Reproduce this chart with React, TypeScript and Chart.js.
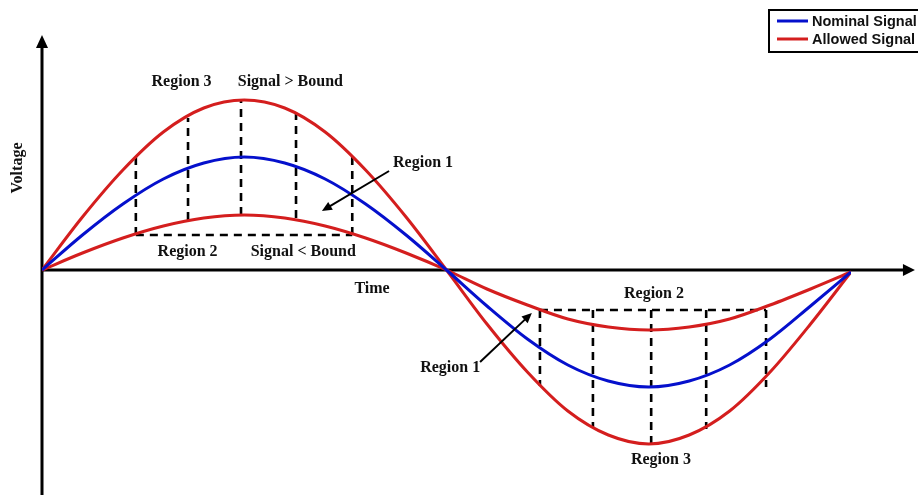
import React, { useEffect, useRef } from "react";
import { Chart, registerables } from "chart.js";

Chart.register(...registerables);

// Time steps (1/20 of a period each)
const timeSteps = [0, 1, 2, 3, 4, 5, 6, 7, 8, 9, 10, 11, 12, 13, 14, 15, 16, 17, 18, 19, 20];
// Nominal signal (blue)
const nominalSignal = [0, 0.35, 0.66, 0.91, 1.07, 1.13, 1.07, 0.91, 0.66, 0.35, 0, -0.36, -0.69, -0.95, -1.11, -1.17, -1.11, -0.95, -0.69, -0.36, -0.02];
// Allowed signal – outer bound (upper in 1st half, lower in 2nd half)
const allowedOuter = [0, 0.53, 1.0, 1.38, 1.62, 1.7, 1.62, 1.38, 1.0, 0.53, 0, -0.54, -1.02, -1.41, -1.65, -1.74, -1.65, -1.41, -1.02, -0.54, -0.02];
// Allowed signal – inner bound
const allowedInner = [0, 0.17, 0.32, 0.44, 0.52, 0.55, 0.52, 0.44, 0.32, 0.17, 0, -0.19, -0.35, -0.49, -0.57, -0.6, -0.57, -0.49, -0.35, -0.19, -0.02];

// Dashed region markers, first half
const markX1 = [2.32, 3.61, 4.92, 6.28, 7.67];
const markTop1 = [1.13, 1.52, 1.7, 1.56, 1.15];
const markBottom1 = [0.35, 0.5, 0.55, 0.52, 0.35];
const boxLine1 = 0.35;
// Dashed region markers, second half
const markX2 = [12.31, 13.62, 15.06, 16.42, 17.9];
const markTop2 = [-0.4, -0.4, -0.4, -0.4, -0.4];
const markBottom2 = [-1.16, -1.57, -1.74, -1.59, -1.17];
const boxLine2 = -0.4;

// Annotation labels (text, x, y in data units)
const labelTexts = ["Region 3", "Signal > Bound", "Region 1", "Region 2", "Signal < Bound", "Time", "Region 1", "Region 2", "Region 3"];
const labelX = [3.45, 6.14, 9.42, 3.6, 6.46, 8.16, 10.09, 15.13, 15.3];
const labelY = [1.88, 1.88, 1.07, 0.18, 0.18, -0.19, -0.98, -0.24, -1.9];
// Arrows: from -> to
const arrowFromX = [8.58, 10.83];
const arrowFromY = [0.99, -0.92];
const arrowToX = [6.92, 12.11];
const arrowToY = [0.59, -0.43];

const legendLabels = ["Nominal Signal", "Allowed Signal"];
const BLUE = "#0510cc";
const RED = "#d41e1e";

export default function App() {
  const ref = useRef<HTMLCanvasElement | null>(null);

  useEffect(() => {
    document.body.style.margin = "0";
    const canvas = ref.current!;
    const dashed = { borderColor: "#000", borderWidth: 2.6, borderDash: [8, 6], pointRadius: 0, fill: false, tension: 0 };
    const datasets: any[] = [
      {
        label: legendLabels[0],
        data: timeSteps.map((t, i) => ({ x: t, y: nominalSignal[i] })),
        borderColor: BLUE,
        borderWidth: 3,
        pointRadius: 0,
        cubicInterpolationMode: "monotone",
      },
      {
        label: legendLabels[1],
        data: timeSteps.map((t, i) => ({ x: t, y: allowedOuter[i] })),
        borderColor: RED,
        borderWidth: 3,
        pointRadius: 0,
        cubicInterpolationMode: "monotone",
      },
      {
        label: legendLabels[1] + " (inner)",
        data: timeSteps.map((t, i) => ({ x: t, y: allowedInner[i] })),
        borderColor: RED,
        borderWidth: 3,
        pointRadius: 0,
        cubicInterpolationMode: "monotone",
      },
    ];
    markX1.forEach((x, i) => {
      datasets.push({ ...dashed, label: "m1-" + i, data: [{ x, y: markBottom1[i] }, { x, y: markTop1[i] }] });
    });
    datasets.push({ ...dashed, label: "b1", data: [{ x: markX1[0], y: boxLine1 }, { x: markX1[markX1.length - 1], y: boxLine1 }] });
    markX2.forEach((x, i) => {
      datasets.push({ ...dashed, label: "m2-" + i, data: [{ x, y: markTop2[i] }, { x, y: markBottom2[i] }] });
    });
    datasets.push({ ...dashed, label: "b2", data: [{ x: markX2[0], y: boxLine2 }, { x: markX2[markX2.length - 1], y: boxLine2 }] });

    const decor = {
      id: "decor",
      beforeDatasetsDraw(chart: any) {
        const { ctx } = chart;
        const xs = chart.scales.x;
        const ys = chart.scales.y;
        ctx.save();
        ctx.strokeStyle = "#000";
        ctx.fillStyle = "#000";
        ctx.lineWidth = 3;
        // y axis
        const x0 = xs.getPixelForValue(0);
        const y0 = ys.getPixelForValue(0);
        const yTop = ys.getPixelForValue(2.35);
        ctx.beginPath();
        ctx.moveTo(x0, chart.height);
        ctx.lineTo(x0, yTop + 10);
        ctx.stroke();
        ctx.beginPath();
        ctx.moveTo(x0, yTop);
        ctx.lineTo(x0 - 6, yTop + 13);
        ctx.lineTo(x0 + 6, yTop + 13);
        ctx.closePath();
        ctx.fill();
        // x axis
        const xEnd = xs.getPixelForValue(21.58);
        ctx.beginPath();
        ctx.moveTo(x0, y0);
        ctx.lineTo(xEnd - 8, y0);
        ctx.stroke();
        ctx.beginPath();
        ctx.moveTo(xEnd, y0);
        ctx.lineTo(xEnd - 12, y0 - 6);
        ctx.lineTo(xEnd - 12, y0 + 6);
        ctx.closePath();
        ctx.fill();
        ctx.restore();
      },
      afterDatasetsDraw(chart: any) {
        const { ctx } = chart;
        const xs = chart.scales.x;
        const ys = chart.scales.y;
        ctx.save();
        ctx.fillStyle = "#111";
        ctx.font = "bold 16px 'Liberation Serif', 'Times New Roman', serif";
        ctx.textAlign = "center";
        ctx.textBaseline = "middle";
        labelTexts.forEach((t, i) => {
          ctx.fillText(t, xs.getPixelForValue(labelX[i]), ys.getPixelForValue(labelY[i]));
        });
        // Voltage (rotated)
        ctx.save();
        ctx.translate(18, 168);
        ctx.rotate(-Math.PI / 2);
        ctx.font = "bold 16px 'Liberation Serif', 'Times New Roman', serif";
        ctx.fillText("Voltage", 0, 0);
        ctx.restore();
        // arrows
        ctx.strokeStyle = "#000";
        ctx.fillStyle = "#000";
        ctx.lineWidth = 2;
        arrowFromX.forEach((fx, i) => {
          const ax = xs.getPixelForValue(fx);
          const ay = ys.getPixelForValue(arrowFromY[i]);
          const bx = xs.getPixelForValue(arrowToX[i]);
          const by = ys.getPixelForValue(arrowToY[i]);
          const ang = Math.atan2(by - ay, bx - ax);
          ctx.beginPath();
          ctx.moveTo(ax, ay);
          ctx.lineTo(bx - 6 * Math.cos(ang), by - 6 * Math.sin(ang));
          ctx.stroke();
          ctx.beginPath();
          ctx.moveTo(bx, by);
          ctx.lineTo(bx - 10 * Math.cos(ang) + 4.5 * Math.sin(ang), by - 10 * Math.sin(ang) - 4.5 * Math.cos(ang));
          ctx.lineTo(bx - 10 * Math.cos(ang) - 4.5 * Math.sin(ang), by - 10 * Math.sin(ang) + 4.5 * Math.cos(ang));
          ctx.closePath();
          ctx.fill();
        });
        // legend
        ctx.lineWidth = 2;
        ctx.strokeStyle = "#000";
        ctx.strokeRect(769, 10, 170, 42);
        ctx.lineWidth = 3;
        const legColors = [BLUE, RED];
        const legY = [21, 39];
        ctx.font = "bold 14.5px 'Liberation Sans', Arial, sans-serif";
        ctx.textAlign = "left";
        legendLabels.forEach((t, i) => {
          ctx.strokeStyle = legColors[i];
          ctx.beginPath();
          ctx.moveTo(777, legY[i]);
          ctx.lineTo(808, legY[i]);
          ctx.stroke();
          ctx.fillStyle = "#111";
          ctx.fillText(t, 812, legY[i] + 1);
        });
        ctx.restore();
      },
    };

    const chart = new Chart(canvas, {
      type: "line",
      data: { datasets },
      options: {
        animation: false,
        responsive: false,
        events: [],
        layout: { padding: { left: 42, right: 67, top: 0, bottom: 0 } },
        plugins: { legend: { display: false }, tooltip: { enabled: false }, title: { display: false } },
        scales: {
          x: { type: "linear", min: 0, max: 20, display: false },
          y: { type: "linear", min: -2.25, max: 2.7, display: false },
        },
      },
      plugins: [decor],
    });
    return () => chart.destroy();
  }, []);

  return (
    <div style={{ position: "absolute", left: 0, top: 0, width: 918, height: 495, background: "#fff" }}>
      <canvas ref={ref} width={918} height={495} style={{ display: "block", width: 918, height: 495 }} />
    </div>
  );
}
